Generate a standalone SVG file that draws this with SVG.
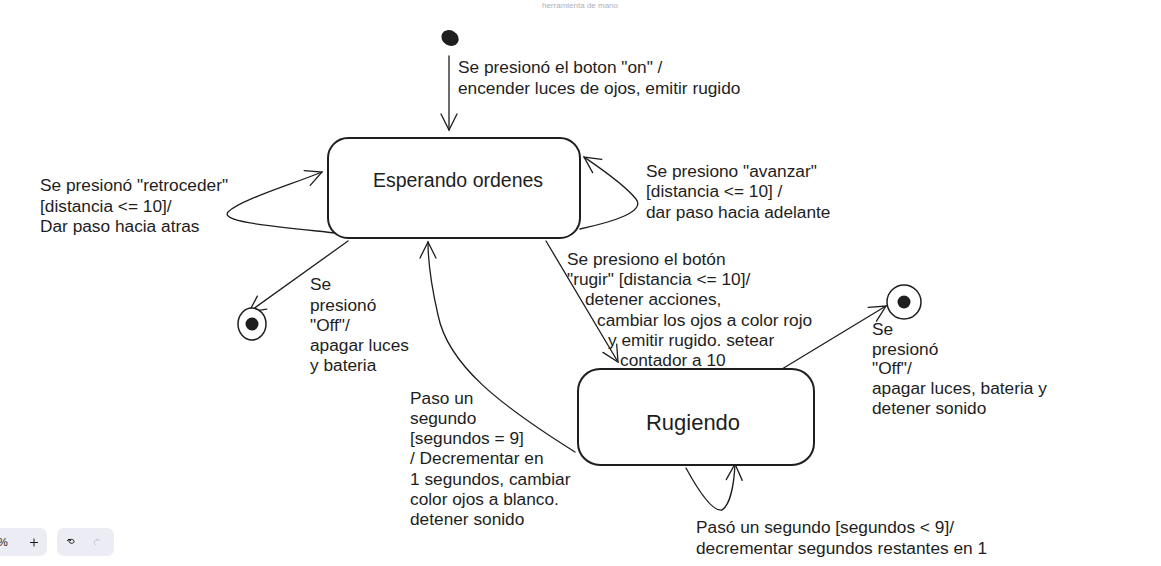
<svg xmlns="http://www.w3.org/2000/svg" width="1161" height="566" viewBox="0 0 1161 566">
<style>
.t{font-family:"Liberation Sans","Noto Sans",sans-serif;font-size:17.3px;fill:#1e1e1e}
.n{font-family:"Liberation Sans","Noto Sans",sans-serif;font-size:19.5px;fill:#1e1e1e;text-anchor:middle}
.c{fill:none;stroke:#1e1e1e;stroke-width:1.3;stroke-linecap:round;stroke-linejoin:round}
.box{fill:#ffffff;stroke:#1e1e1e;stroke-width:2}
.ui{font-family:"Liberation Sans",sans-serif;font-size:11px;fill:#1b1b1f}
</style>
<defs>
<marker id="ah" viewBox="0 0 20 20" refX="18" refY="10" markerWidth="20" markerHeight="20" markerUnits="userSpaceOnUse" orient="auto">
<path d="M2 2 L18 10 L2 18" fill="none" stroke="#1e1e1e" stroke-width="1.3" stroke-linecap="round"/>
</marker>
</defs>
<rect width="1161" height="566" fill="#ffffff"/>
<text x="580" y="8" font-family="Liberation Sans, sans-serif" font-size="8" fill="#b0b0b8" text-anchor="middle">herramienta de mano</text>

<g id="connectors">
<path class="c" d="M449 56 L449 130" marker-end="url(#ah)"/>
<path class="c" d="M336 233 C 270 226, 220 222, 228 212 C 240 200, 290 185, 322 172" marker-end="url(#ah)"/>
<path class="c" d="M580 229 C 612 222, 646 212, 636 199 C 624 184, 600 168, 584 157" marker-end="url(#ah)"/>
<path class="c" d="M348 241 L249 312" marker-end="url(#ah)"/>
<path class="c" d="M546 241 L618 362" marker-end="url(#ah)"/>
<path class="c" d="M575 452 C 500 405, 448 365, 438 315 C 430 280, 428 262, 428 242" marker-end="url(#ah)"/>
<path class="c" d="M686 468 C 698 490, 712 512, 722 510 C 730 505, 734 485, 735 464" marker-end="url(#ah)"/>
<path class="c" d="M782 369 L886 306" marker-end="url(#ah)"/>
</g>

<g id="start">
<ellipse cx="450" cy="38" rx="9" ry="7.5" transform="rotate(30 450 38)" fill="#1e1e1e"/>
</g>

<g id="esperando">
<rect class="box" x="328" y="138" width="252" height="100" rx="20"/>
<text class="n" x="458" y="187">Esperando ordenes</text>
</g>

<g id="rugiendo">
<rect class="box" x="578" y="369" width="236" height="96" rx="22" stroke-width="1.5"/>
<text class="n" x="693" y="430" style="font-size:22px">Rugiendo</text>
</g>

<g id="final-left">
<ellipse cx="252" cy="324" rx="14" ry="16" fill="#ffffff" stroke="#1e1e1e" stroke-width="1.5"/>
<circle cx="252" cy="324" r="6.5" fill="#1e1e1e"/>
</g>

<g id="final-right">
<ellipse cx="904" cy="302" rx="17" ry="17" fill="#ffffff" stroke="#1e1e1e" stroke-width="1.5"/>
<circle cx="904" cy="302" r="6.5" fill="#1e1e1e"/>
</g>

<g id="labels">
<text class="t" x="458" y="73">Se presionó el boton "on" /</text>
<text class="t" x="458" y="94">encender luces de ojos, emitir rugido</text>

<text class="t" x="40" y="191">Se presionó "retroceder"</text>
<text class="t" x="40" y="212">[distancia &lt;= 10]/</text>
<text class="t" x="40" y="232">Dar paso hacia atras</text>

<text class="t" x="646" y="177">Se presiono "avanzar"</text>
<text class="t" x="646" y="197">[distancia &lt;= 10] /</text>
<text class="t" x="646" y="218">dar paso hacia adelante</text>

<text class="t" x="310" y="290">Se</text>
<text class="t" x="310" y="311">presionó</text>
<text class="t" x="310" y="331">"Off"/</text>
<text class="t" x="310" y="351">apagar luces</text>
<text class="t" x="310" y="371">y bateria</text>

<text class="t" x="567" y="265">Se presiono el botón</text>
<text class="t" x="567" y="285">"rugir" [distancia &lt;= 10]/</text>
<text class="t" x="585" y="305">detener acciones,</text>
<text class="t" x="597" y="326">cambiar los ojos a color rojo</text>
<text class="t" x="608" y="346">y emitir rugido. setear</text>
<text class="t" x="620" y="366">contador a 10</text>

<text class="t" x="872" y="335">Se</text>
<text class="t" x="872" y="355">presionó</text>
<text class="t" x="872" y="374">"Off"/</text>
<text class="t" x="872" y="394">apagar luces, bateria y</text>
<text class="t" x="872" y="414">detener sonido</text>

<text class="t" x="410" y="404">Paso un</text>
<text class="t" x="410" y="424">segundo</text>
<text class="t" x="410" y="444">[segundos = 9]</text>
<text class="t" x="410" y="464">/ Decrementar en</text>
<text class="t" x="410" y="485">1 segundos, cambiar</text>
<text class="t" x="410" y="505">color ojos a blanco.</text>
<text class="t" x="410" y="525">detener sonido</text>

<text class="t" x="696" y="533">Pasó un segundo [segundos &lt; 9]/</text>
<text class="t" x="696" y="554">decrementar segundos restantes en 1</text>
</g>

<g id="toolbar">
<rect x="-12" y="528" width="59" height="28" rx="7" fill="#ececf4"/>
<text class="ui" x="-2" y="546">%</text>
<path d="M30 542.5 H38 M34 538.5 V546.5" stroke="#1b1b1f" stroke-width="1"/>
<rect x="57" y="528" width="57" height="28" rx="7" fill="#ececf4"/>
<path d="M67 541 L69 539 L71 541 M69 539 V541 C69 544, 74 544, 74 541.5 C74 539.5, 72 539, 70 539.5" fill="none" stroke="#1b1b1f" stroke-width="1"/>
<path d="M100 541 L98 539 L96 541 M98 539 C94 539, 93 544, 96 545" fill="none" stroke="#c8c8d0" stroke-width="1"/>
</g>
</svg>
